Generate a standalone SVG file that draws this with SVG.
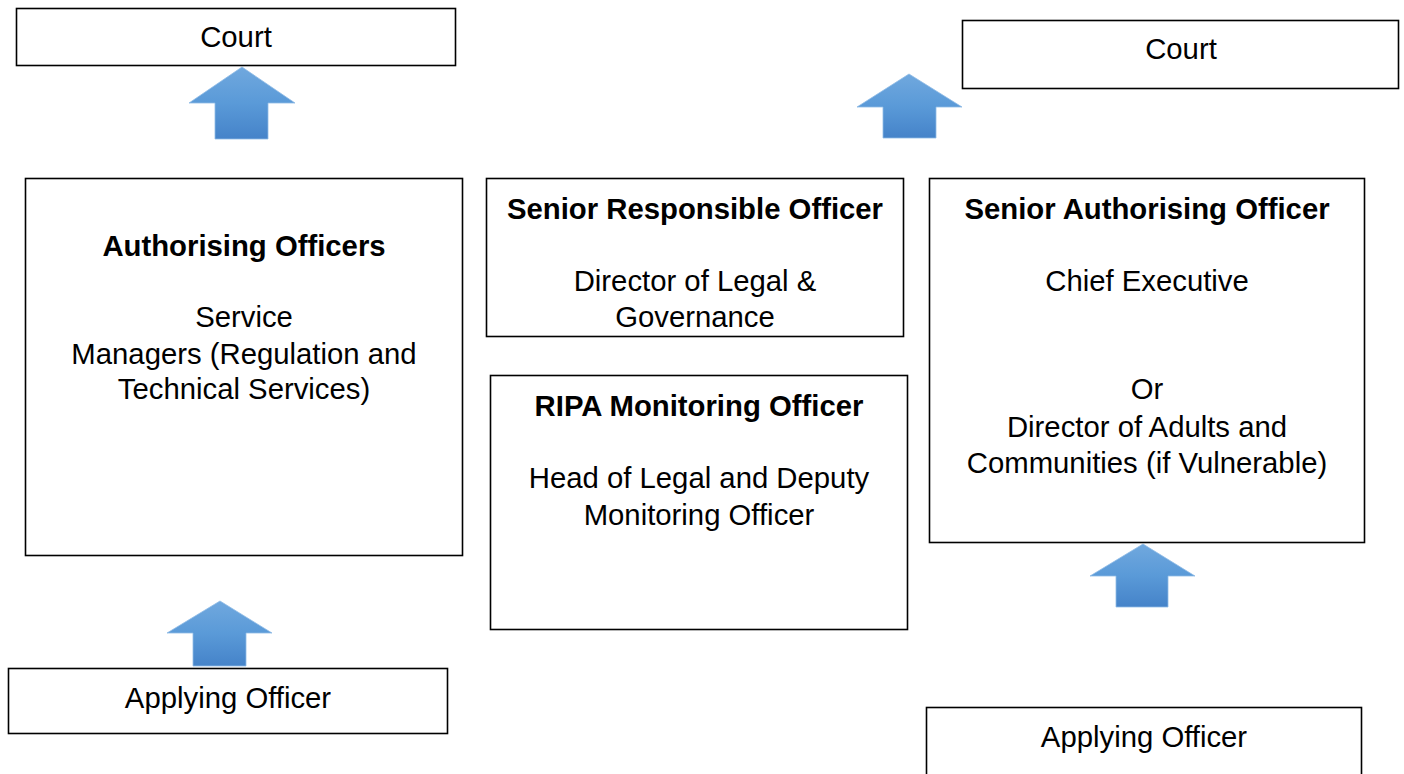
<svg xmlns="http://www.w3.org/2000/svg" width="1404" height="774" viewBox="0 0 1404 774">
<defs>
<linearGradient id="ag" x1="0" y1="0" x2="0" y2="1">
<stop offset="0" stop-color="#70a8de"/>
<stop offset="0.5" stop-color="#5a9ad8"/>
<stop offset="1" stop-color="#4583c9"/>
</linearGradient>
</defs>
<style>
.box{fill:#fff;stroke:#000;stroke-width:1.6}
.t{font-family:"Liberation Sans",Arial,sans-serif;font-size:29.3px;fill:#000;text-anchor:middle}
.b{font-weight:bold}
.arr{fill:url(#ag);stroke:#8fbbe6;stroke-width:0.8}
</style>
<rect width="1404" height="774" fill="#fff"/>
<g id="connectors">
<path class="arr" d="M242,67 L295,103 L268,103 L268,139 L215,139 L215,103 L189,103 Z"/>
<path class="arr" d="M909,74 L962,107 L936,107 L936,138 L883,138 L883,107 L857,107 Z"/>
<path class="arr" d="M220,601 L272,633 L246,633 L246,666 L193,666 L193,633 L167,633 Z"/>
<path class="arr" d="M1143,544 L1195,576 L1168,576 L1168,607 L1116,607 L1116,576 L1090,576 Z"/>
</g>
<g id="court-left">
<rect class="box" x="16.5" y="8.5" width="439" height="57"/>
<text class="t" x="236" y="47">Court</text>
</g>
<g id="court-right">
<rect class="box" x="962.5" y="20.5" width="436" height="68"/>
<text class="t" x="1181" y="59">Court</text>
</g>
<g id="authorising-officers">
<rect class="box" x="25.5" y="178.5" width="437" height="377"/>
<text class="t b" x="244" y="256">Authorising Officers</text>
<text class="t" x="244" y="327">Service</text>
<text class="t" x="244" y="364">Managers (Regulation and</text>
<text class="t" x="244" y="399">Technical Services)</text>
</g>
<g id="senior-responsible-officer">
<rect class="box" x="486.5" y="178.5" width="417" height="158"/>
<text class="t b" x="695" y="219">Senior Responsible Officer</text>
<text class="t" x="695" y="291">Director of Legal &amp;</text>
<text class="t" x="695" y="327">Governance</text>
</g>
<g id="ripa-monitoring-officer">
<rect class="box" x="490.5" y="375.5" width="417" height="254"/>
<text class="t b" x="699" y="416">RIPA Monitoring Officer</text>
<text class="t" x="699" y="488">Head of Legal and Deputy</text>
<text class="t" x="699" y="525">Monitoring Officer</text>
</g>
<g id="senior-authorising-officer">
<rect class="box" x="929.5" y="178.5" width="435" height="364"/>
<text class="t b" x="1147" y="219">Senior Authorising Officer</text>
<text class="t" x="1147" y="291">Chief Executive</text>
<text class="t" x="1147" y="399">Or</text>
<text class="t" x="1147" y="437">Director of Adults and</text>
<text class="t" x="1147" y="473">Communities (if Vulnerable)</text>
</g>
<g id="applying-officer-left">
<rect class="box" x="8.5" y="668.5" width="439" height="65"/>
<text class="t" x="228" y="708">Applying Officer</text>
</g>
<g id="applying-officer-right">
<rect class="box" x="926.5" y="707.5" width="435" height="80"/>
<text class="t" x="1144" y="747">Applying Officer</text>
</g>
</svg>
